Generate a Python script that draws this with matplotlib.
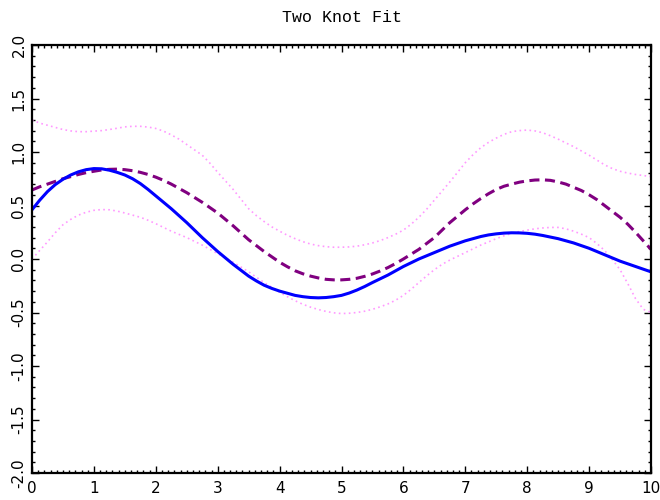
import matplotlib
matplotlib.use("Agg")
import matplotlib.pyplot as plt
import numpy as np
from matplotlib.ticker import MultipleLocator, FormatStrFormatter

# sample positions along x (step 0.125)
x = np.linspace(0, 10, 81)

fit = [0.46, 0.55, 0.63, 0.695, 0.745, 0.785, 0.815, 0.835, 0.845, 0.843,
       0.83, 0.81, 0.785, 0.75, 0.705, 0.65, 0.59, 0.53, 0.47, 0.405,
       0.34, 0.27, 0.20, 0.135, 0.07, 0.01, -0.05, -0.105, -0.16, -0.205,
       -0.245, -0.275, -0.30, -0.32, -0.34, -0.352, -0.36, -0.363, -0.36, -0.352,
       -0.34, -0.318, -0.29, -0.257, -0.22, -0.185, -0.15, -0.11, -0.07, -0.035,
       0.0, 0.03, 0.06, 0.09, 0.12, 0.145, 0.17, 0.19, 0.21, 0.225,
       0.235, 0.242, 0.245, 0.244, 0.24, 0.232, 0.22, 0.205, 0.19, 0.17,
       0.15, 0.125, 0.10, 0.07, 0.04, 0.01, -0.02, -0.045, -0.07, -0.095,
       -0.12]

truth = [0.645, 0.675, 0.70, 0.725, 0.75, 0.77, 0.79, 0.807, 0.82, 0.832,
         0.838, 0.84, 0.835, 0.825, 0.81, 0.79, 0.765, 0.735, 0.70, 0.66,
         0.62, 0.575, 0.53, 0.48, 0.43, 0.37, 0.31, 0.245, 0.18, 0.125,
         0.07, 0.02, -0.03, -0.072, -0.11, -0.138, -0.16, -0.177, -0.19, -0.195,
         -0.195, -0.19, -0.18, -0.162, -0.14, -0.112, -0.08, -0.042, 0.0, 0.045,
         0.09, 0.145, 0.20, 0.27, 0.34, 0.40, 0.46, 0.515, 0.565, 0.61,
         0.65, 0.68, 0.70, 0.718, 0.73, 0.738, 0.74, 0.735, 0.72, 0.70,
         0.67, 0.64, 0.60, 0.555, 0.50, 0.445, 0.39, 0.325, 0.25, 0.17,
         0.09]

upper = [1.30, 1.27, 1.25, 1.23, 1.21, 1.197, 1.19, 1.19, 1.195, 1.20,
         1.21, 1.222, 1.235, 1.24, 1.24, 1.233, 1.22, 1.195, 1.16, 1.12,
         1.07, 1.02, 0.97, 0.895, 0.81, 0.73, 0.65, 0.56, 0.47, 0.405,
         0.35, 0.30, 0.26, 0.222, 0.19, 0.162, 0.14, 0.125, 0.115, 0.11,
         0.11, 0.113, 0.12, 0.133, 0.15, 0.172, 0.20, 0.232, 0.27, 0.325,
         0.39, 0.465, 0.55, 0.635, 0.72, 0.81, 0.90, 0.975, 1.04, 1.09,
         1.13, 1.165, 1.19, 1.20, 1.205, 1.197, 1.18, 1.152, 1.12, 1.085,
         1.05, 1.01, 0.97, 0.925, 0.88, 0.845, 0.82, 0.803, 0.79, 0.78,
         0.77]

lower = [0.0, 0.08, 0.16, 0.245, 0.32, 0.37, 0.41, 0.437, 0.455, 0.462,
         0.46, 0.448, 0.43, 0.41, 0.39, 0.362, 0.33, 0.295, 0.26, 0.23,
         0.20, 0.165, 0.13, 0.09, 0.05, 0.01, -0.03, -0.075, -0.12, -0.17,
         -0.22, -0.265, -0.31, -0.352, -0.39, -0.423, -0.45, -0.472, -0.49, -0.503,
         -0.51, -0.507, -0.50, -0.488, -0.47, -0.447, -0.42, -0.385, -0.34, -0.283,
         -0.22, -0.158, -0.10, -0.05, -0.01, 0.025, 0.06, 0.095, 0.13, 0.16,
         0.19, 0.217, 0.24, 0.257, 0.27, 0.282, 0.29, 0.295, 0.295, 0.282,
         0.26, 0.232, 0.20, 0.145, 0.08, -0.005, -0.10, -0.23, -0.37, -0.47,
         -0.50]

title = "Two Knot Fit"

fig = plt.figure(figsize=(6.6, 5.0), dpi=100)
ax = fig.add_axes([32/660, 27/500, (651-32)/660, (473-45)/500])

ax.plot(x, upper, color="#ff99ff", lw=1.2, linestyle=(0, (1, 2)))
ax.plot(x, lower, color="#ff99ff", lw=1.2, linestyle=(0, (1, 2)))
ax.plot(x, truth, color="#800080", lw=2.2, linestyle=(0, (3.3, 1.8)))
ax.plot(x, fit, color="#0000ff", lw=2.2, solid_capstyle="round",
        solid_joinstyle="round")

ax.set_xlim(0, 10)
ax.set_ylim(-2, 2)
ax.xaxis.set_major_locator(MultipleLocator(1))
ax.xaxis.set_minor_locator(MultipleLocator(0.1))
ax.yaxis.set_major_locator(MultipleLocator(0.5))
ax.yaxis.set_minor_locator(MultipleLocator(0.1))
ax.yaxis.set_major_formatter(FormatStrFormatter("%.1f"))

ax.tick_params(which="both", direction="in", top=True, right=True, width=1)
ax.tick_params(which="major", length=5)
ax.tick_params(which="minor", length=2.5)
ax.tick_params(axis="x", labelsize=11, pad=6)
ax.tick_params(axis="y", labelsize=11, pad=4)
for lab in ax.get_yticklabels():
    lab.set_rotation(90)
    lab.set_va("center")
for s in ax.spines.values():
    s.set_linewidth(1.6)

fig.text((32+651)/2/660, 1 - 17/500, title, ha="center", va="center",
         family="Liberation Mono", fontsize=12)

fig.savefig("out.png", dpi=100)
